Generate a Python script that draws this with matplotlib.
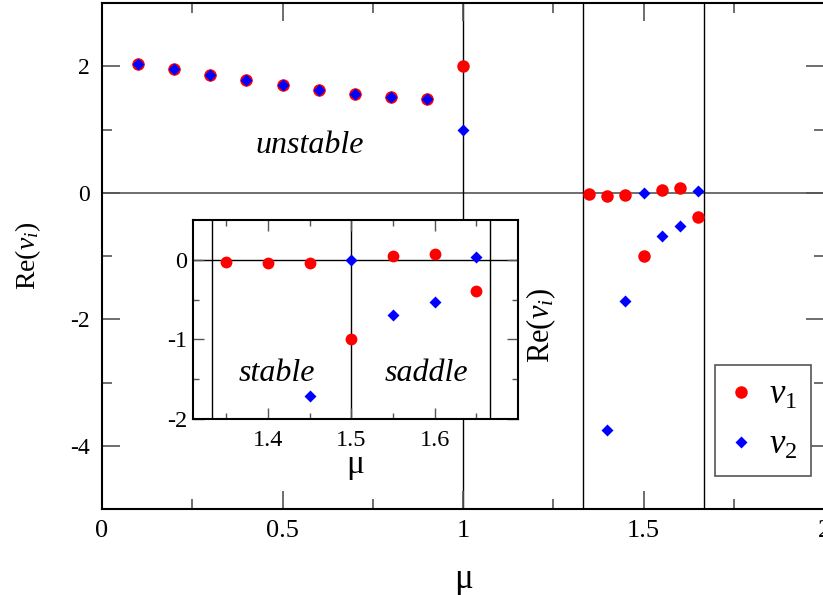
import matplotlib
matplotlib.use("Agg")
import matplotlib.pyplot as plt
from matplotlib.ticker import MultipleLocator, FixedLocator, FuncFormatter

plt.rcParams['font.family'] = ['Liberation Serif', 'DejaVu Serif']
plt.rcParams['mathtext.fontset'] = 'custom'
plt.rcParams['mathtext.rm'] = 'Liberation Serif'
plt.rcParams['mathtext.it'] = 'Liberation Serif:italic'
plt.rcParams['axes.unicode_minus'] = False

# ---- data ----
mu = [0.1, 0.2, 0.3, 0.4, 0.5, 0.6, 0.7, 0.8, 0.9, 1.0,
      1.35, 1.40, 1.45, 1.50, 1.55, 1.60, 1.65]
v1 = [2.03, 1.95, 1.86, 1.78, 1.70, 1.62, 1.56, 1.51, 1.49, 2.00,
      -0.025, -0.046, -0.042, -1.00, 0.046, 0.075, -0.39]
v2 = [2.03, 1.95, 1.86, 1.78, 1.70, 1.62, 1.56, 1.51, 1.49, 1.00,
      None, -3.75, -1.71, 0.00, -0.69, -0.525, 0.033]
main_vlines = [1.0, 4/3, 5/3]
inset_vlines = [4/3, 1.5, 5/3]
main_xticks = [0, 0.5, 1, 1.5, 2]
main_xticklabels = ["0", "0.5", "1", "1.5", "2"]
main_yticks = [-4, -2, 0, 2]
inset_xticks = [1.4, 1.5, 1.6]
inset_yticks = [-2, -1, 0]

W, H = 823, 595
fig = plt.figure(figsize=(W/100, H/100), dpi=100)

def fx(px): return px / W
def fy(py): return 1 - py / H

ax = fig.add_axes([fx(102), fy(509), (824-102)/W, (509-3)/H])
ax.set_xlim(0, 2)
ax.set_ylim(-5, 3)

ax.axhline(0, color='#555555', lw=1.2, zorder=1)
for xv in main_vlines:
    ax.axvline(xv, color='black', lw=1.0, zorder=1)

m1 = [(x, y) for x, y in zip(mu, v1) if y is not None]
m2 = [(x, y) for x, y in zip(mu, v2) if y is not None]
ax.plot([p[0] for p in m1], [p[1] for p in m1], 'o', color='#ff0000', ms=9,
        mec='none', label=r'$v_{\mathit{1}}$', zorder=3)
ax.plot([p[0] for p in m2], [p[1] for p in m2], 'D', color='#0000ff', ms=6,
        mec='none', label=r'$v_{\mathit{2}}$', zorder=4)

ax.xaxis.set_major_locator(FixedLocator(main_xticks))
ax.set_xticklabels(main_xticklabels)
ax.xaxis.set_minor_locator(MultipleLocator(0.25))
ax.yaxis.set_major_locator(FixedLocator(main_yticks))
ax.yaxis.set_major_formatter(FuncFormatter(lambda v, p: "%d" % v))
ax.yaxis.set_minor_locator(MultipleLocator(1))
ax.tick_params(which='both', direction='in', top=True, right=True,
               color='#555555')
ax.tick_params(which='major', length=13, width=1.2)
ax.tick_params(which='minor', length=7, width=1.2)
ax.tick_params(axis='x', pad=8, labelsize=19)
ax.tick_params(axis='y', pad=9, labelsize=17)
for s in ax.spines.values():
    s.set_linewidth(1.5)

ax.set_xlabel('μ', fontsize=25, va='center')
ax.xaxis.set_label_coords(0.5, (509-580)/506)
ax.set_ylabel(r'Re($v_i$)', fontsize=20, va='center', ha='center')
ax.yaxis.set_label_coords((28-102)/722, 0.5)

ax.text(0.575, 0.626, 'unstable', fontsize=23, style='italic',
        ha='center', va='baseline')

leg = ax.legend(loc='upper left', bbox_to_anchor=(fx(715), fy(365)),
                bbox_transform=fig.transFigure, borderaxespad=0,
                fontsize=25, frameon=True, fancybox=False, framealpha=1,
                edgecolor='#555555', handlelength=0.7, handletextpad=0.45,
                borderpad=0.4, labelspacing=0.5, numpoints=1)
leg.get_frame().set_linewidth(1.2)

# ---- inset ----
ins = fig.add_axes([fx(193), fy(419), (518-193)/W, (419-220)/H])
ins.set_xlim(1.31, 1.70)
ins.set_ylim(-2, 0.5)
ins.set_facecolor('white')
ins.axhline(0, color='black', lw=1.0, zorder=1)
for xv in inset_vlines:
    ins.axvline(xv, color='black', lw=1.0, zorder=1)
ins_m1 = [(x, y) for x, y in m1 if x > 1.3]
ins_m2 = [(x, y) for x, y in m2 if x > 1.3]
ins.plot([p[0] for p in ins_m1], [p[1] for p in ins_m1], 'o', color='#ff0000',
         ms=8.5, mec='none', zorder=3, clip_on=True)
ins.plot([p[0] for p in ins_m2], [p[1] for p in ins_m2], 'D', color='#0000ff',
         ms=5.8, mec='none', zorder=4, clip_on=True)
ins.xaxis.set_major_locator(FixedLocator(inset_xticks))
ins.xaxis.set_major_formatter(FuncFormatter(lambda v, p: "%.1f" % v))
ins.xaxis.set_minor_locator(FixedLocator([1.35, 1.45, 1.55, 1.65]))
ins.yaxis.set_major_locator(FixedLocator(inset_yticks))
ins.yaxis.set_major_formatter(FuncFormatter(lambda v, p: "%d" % round(v)))
ins.yaxis.set_minor_locator(FixedLocator([-1.5, -0.5]))
ins.tick_params(which='both', direction='in', top=True, right=True,
                color='#555555', labelsize=17.5)
ins.tick_params(which='major', length=8, width=1.0)
ins.tick_params(which='minor', length=4, width=1.0)
ins.tick_params(axis='x', pad=8)
ins.tick_params(axis='y', pad=4)
for s in ins.spines.values():
    s.set_linewidth(1.5)
ins.set_xlabel('μ', fontsize=24, va='center')
ins.xaxis.set_label_coords(0.5, (419-465)/199)
ins.text(1.411, -1.52, 'stable', fontsize=23, style='italic',
         ha='center', va='baseline')
ins.text(1.59, -1.52, 'saddle', fontsize=23, style='italic',
         ha='center', va='baseline')

fig.text(fx(541), fy(325), r'Re($v_i$)', fontsize=22, rotation=90,
         ha='center', va='center')

fig.savefig('out.png', dpi=100)
